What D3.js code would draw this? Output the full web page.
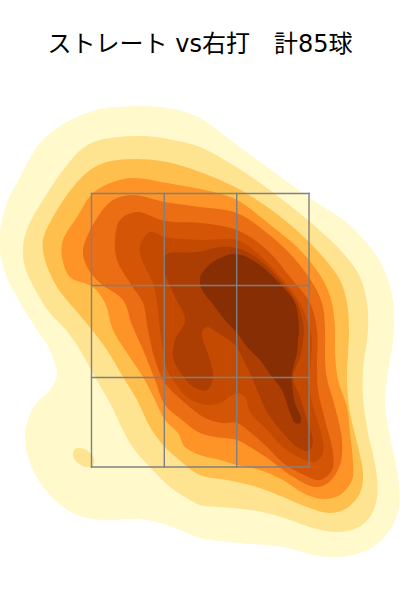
<!DOCTYPE html>
<html><head><meta charset="utf-8">
<script src="https://cdn.jsdelivr.net/npm/d3@7"></script>
<style>html,body{margin:0;padding:0;background:#fff}svg{display:block}</style>
</head><body><svg id="c" width="400" height="600"></svg>
<script>
const titleText = "ストレート vs右打　計85球";
const zoneX = [-1.085, -0.357, 0.367, 1.09];
const zoneY = [3.065, 2.145, 1.225, 0.33];
const bandColors = ["#fff9cc","#fee391","#febf4d","#fe9428","#eb6e14","#d55507","#c44a02","#ad3e03","#872e05"];
const band1 = [[-0.57,3.94],[-0.27,3.91],[0,3.82],[0.33,3.58],[0.67,3.33],[1.10,3.02],[1.47,2.77],[1.70,2.53],[1.83,2.33],[1.92,2.05],[1.94,1.70],[1.88,1.27],[1.85,0.97],[1.90,0.63],[1.98,0.23],[1.99,-0.07],[1.90,-0.30],[1.73,-0.47],[1.53,-0.55],[1.33,-0.57],[1.13,-0.55],[0.83,-0.47],[0.40,-0.43],[0,-0.38],[-0.20,-0.30],[-0.40,-0.23],[-0.60,-0.19],[-0.93,-0.20],[-1.17,-0.17],[-1.37,-0.07],[-1.57,0.13],[-1.70,0.37],[-1.75,0.60],[-1.73,0.77],[-1.65,0.95],[-1.50,1.10],[-1.43,1.25],[-1.50,1.50],[-1.63,1.70],[-1.87,2.10],[-1.98,2.37],[-2.00,2.67],[-1.93,2.97],[-1.80,3.23],[-1.60,3.57],[-1.43,3.72],[-1.23,3.83],[-1.00,3.91]];
const band2 = [[-0.57,3.64],[-0.27,3.60],[0,3.53],[0.33,3.35],[0.67,3.12],[1.10,2.78],[1.43,2.47],[1.60,2.23],[1.67,1.97],[1.68,1.70],[1.63,1.30],[1.63,1.03],[1.68,0.67],[1.76,0.30],[1.77,0.03],[1.70,-0.17],[1.57,-0.28],[1.37,-0.32],[1.13,-0.28],[0.90,-0.20],[0.63,-0.12],[0.33,-0.08],[0,-0.05],[-0.10,0],[-0.30,0.13],[-0.50,0.33],[-0.67,0.52],[-0.77,0.70],[-0.90,0.97],[-1.05,1.23],[-1.20,1.50],[-1.34,1.70],[-1.50,1.87],[-1.63,2.07],[-1.75,2.33],[-1.77,2.53],[-1.72,2.73],[-1.57,3.00],[-1.33,3.35],[-1.17,3.52],[-1.00,3.60]];
const band2Spot = [[-1.20,0.52],[-1.12,0.49],[-1.06,0.41],[-1.07,0.34],[-1.14,0.33],[-1.22,0.37],[-1.27,0.44],[-1.25,0.51]];
const band3 = [[-0.67,3.41],[-0.33,3.38],[0,3.28],[0.37,3.12],[0.60,2.98],[0.93,2.73],[1.23,2.43],[1.40,2.20],[1.47,1.97],[1.49,1.70],[1.48,1.47],[1.47,1.20],[1.50,0.87],[1.58,0.53],[1.63,0.27],[1.60,0.07],[1.47,-0.08],[1.30,-0.13],[1.07,-0.07],[0.83,0.03],[0.57,0.13],[0.27,0.20],[0,0.25],[-0.23,0.42],[-0.37,0.55],[-0.50,0.73],[-0.63,1.00],[-0.77,1.23],[-0.93,1.50],[-1.08,1.70],[-1.22,1.87],[-1.43,2.13],[-1.55,2.40],[-1.57,2.60],[-1.47,2.83],[-1.27,3.13],[-1.10,3.30],[-0.93,3.38]];
const band4 = [[-0.67,3.22],[-0.33,3.17],[0,3.11],[0.17,3.07],[0.37,3.00],[0.73,2.73],[1.00,2.50],[1.23,2.20],[1.32,1.97],[1.35,1.70],[1.35,1.47],[1.38,1.20],[1.47,0.93],[1.50,0.67],[1.53,0.37],[1.52,0.20],[1.40,0.05],[1.23,0.01],[1.03,0.07],[0.83,0.20],[0.60,0.30],[0.37,0.35],[0.20,0.40],[0,0.45],[-0.15,0.53],[-0.22,0.67],[-0.35,0.80],[-0.45,1.00],[-0.57,1.23],[-0.73,1.47],[-0.87,1.70],[-0.95,1.97],[-1.07,2.13],[-1.30,2.23],[-1.38,2.43],[-1.37,2.60],[-1.23,2.83],[-1.07,3.07],[-0.87,3.18]];
const band5 = [[-0.67,3.05],[-0.35,2.98],[0,2.93],[0.37,2.87],[0.67,2.67],[0.93,2.43],[1.15,2.13],[1.23,1.93],[1.25,1.70],[1.26,1.27],[1.35,0.93],[1.42,0.60],[1.40,0.35],[1.28,0.17],[1.15,0.13],[0.90,0.25],[0.70,0.40],[0.50,0.53],[0.37,0.60],[0.15,0.63],[-0.02,0.68],[-0.18,0.80],[-0.35,0.95],[-0.45,1.20],[-0.57,1.50],[-0.68,1.75],[-0.77,2.00],[-1.00,2.17],[-1.13,2.33],[-1.17,2.50],[-1.03,2.82],[-0.87,3.00]];
const band6 = [[-0.63,2.88],[-0.35,2.79],[0,2.77],[0.37,2.70],[0.67,2.50],[0.90,2.23],[1.10,1.97],[1.17,1.70],[1.17,1.33],[1.18,1.10],[1.25,0.80],[1.33,0.47],[1.32,0.30],[1.20,0.20],[1.00,0.27],[0.83,0.37],[0.67,0.53],[0.50,0.68],[0.37,0.77],[0.22,0.77],[0.05,0.82],[-0.15,0.97],[-0.35,1.17],[-0.45,1.40],[-0.52,1.70],[-0.57,1.97],[-0.70,2.17],[-0.83,2.40],[-0.85,2.60],[-0.80,2.80]];
const band7 = [[-0.50,2.68],[-0.35,2.63],[0,2.60],[0.37,2.60],[0.57,2.47],[0.83,2.20],[1.00,1.97],[1.10,1.70],[1.12,1.60],[1.10,1.27],[1.10,1.07],[1.15,0.87],[1.22,0.63],[1.23,0.47],[1.15,0.38],[1.00,0.42],[0.83,0.53],[0.67,0.70],[0.50,0.88],[0.45,1.03],[0.37,1.07],[0.22,0.98],[0.08,0.95],[-0.12,1.02],[-0.25,1.17],[-0.33,1.30],[-0.37,1.50],[-0.40,1.70],[-0.43,1.97],[-0.47,2.17],[-0.58,2.40],[-0.60,2.53]];
const band8 = [[-0.35,2.45],[-0.02,2.48],[0.20,2.53],[0.37,2.52],[0.57,2.42],[0.80,2.20],[0.97,1.97],[1.04,1.70],[1.03,1.60],[1.00,1.43],[0.93,1.23],[1.00,1.03],[1.07,0.80],[1.13,0.57],[1.08,0.49],[0.97,0.53],[0.83,0.67],[0.70,0.83],[0.60,1.03],[0.53,1.20],[0.45,1.37],[0.35,1.55],[0.18,1.67],[0.07,1.73],[0.02,1.68],[0.03,1.60],[0.10,1.40],[0.13,1.22],[0.07,1.10],[-0.05,1.12],[-0.18,1.25],[-0.27,1.43],[-0.25,1.60],[-0.15,1.80],[-0.25,2.03],[-0.35,2.27]];
const band9 = [[0.37,2.46],[0.57,2.37],[0.83,2.13],[0.95,1.97],[0.99,1.70],[0.98,1.60],[0.97,1.47],[0.92,1.27],[0.92,1.17],[0.95,0.97],[1.01,0.82],[1.00,0.77],[0.95,0.77],[0.88,0.93],[0.82,1.10],[0.72,1.23],[0.60,1.40],[0.48,1.52],[0.37,1.67],[0.25,1.80],[0.12,1.97],[0.02,2.10],[0,2.22],[0.07,2.33],[0.22,2.43]];

const bands = [
  {ring: band1, level: 0}, {ring: band2, level: 1}, {ring: band2Spot, level: 1},
  {ring: band3, level: 2}, {ring: band4, level: 3}, {ring: band5, level: 4},
  {ring: band6, level: 5}, {ring: band7, level: 6}, {ring: band8, level: 7}, {ring: band9, level: 8}
];

const svg = d3.select("#c");
const x = d3.scaleLinear().domain([-2, 2]).range([0, 400]);
const y = d3.scaleLinear().domain([-1, 5]).range([600, 0]);
const path = d3.line().x(d => x(d[0])).y(d => y(d[1])).curve(d3.curveCatmullRomClosed.alpha(0.5));

svg.selectAll("path.band").data(bands).join("path")
  .attr("class", "band")
  .attr("d", d => path(d.ring))
  .attr("fill", d => bandColors[d.level]);

const gridColor = "#808080";
svg.selectAll("line.v").data(zoneX).join("line").attr("class","v")
  .attr("x1", d => x(d)).attr("x2", d => x(d))
  .attr("y1", y(zoneY[0])).attr("y2", y(zoneY[3]))
  .attr("stroke", gridColor).attr("stroke-width", 1.4).attr("stroke-linecap","square");
svg.selectAll("line.h").data(zoneY).join("line").attr("class","h")
  .attr("y1", d => y(d)).attr("y2", d => y(d))
  .attr("x1", x(zoneX[0])).attr("x2", x(zoneX[3]))
  .attr("stroke", gridColor).attr("stroke-width", 1.4).attr("stroke-linecap","square");

svg.append("text").attr("x", 200).attr("y", 52).attr("text-anchor", "middle")
  .attr("font-family", "'DejaVu Sans','Noto Sans CJK JP',sans-serif").attr("font-size", 24)
  .attr("xml:space","preserve").attr("fill", "#000").text(titleText);
</script></body></html>
